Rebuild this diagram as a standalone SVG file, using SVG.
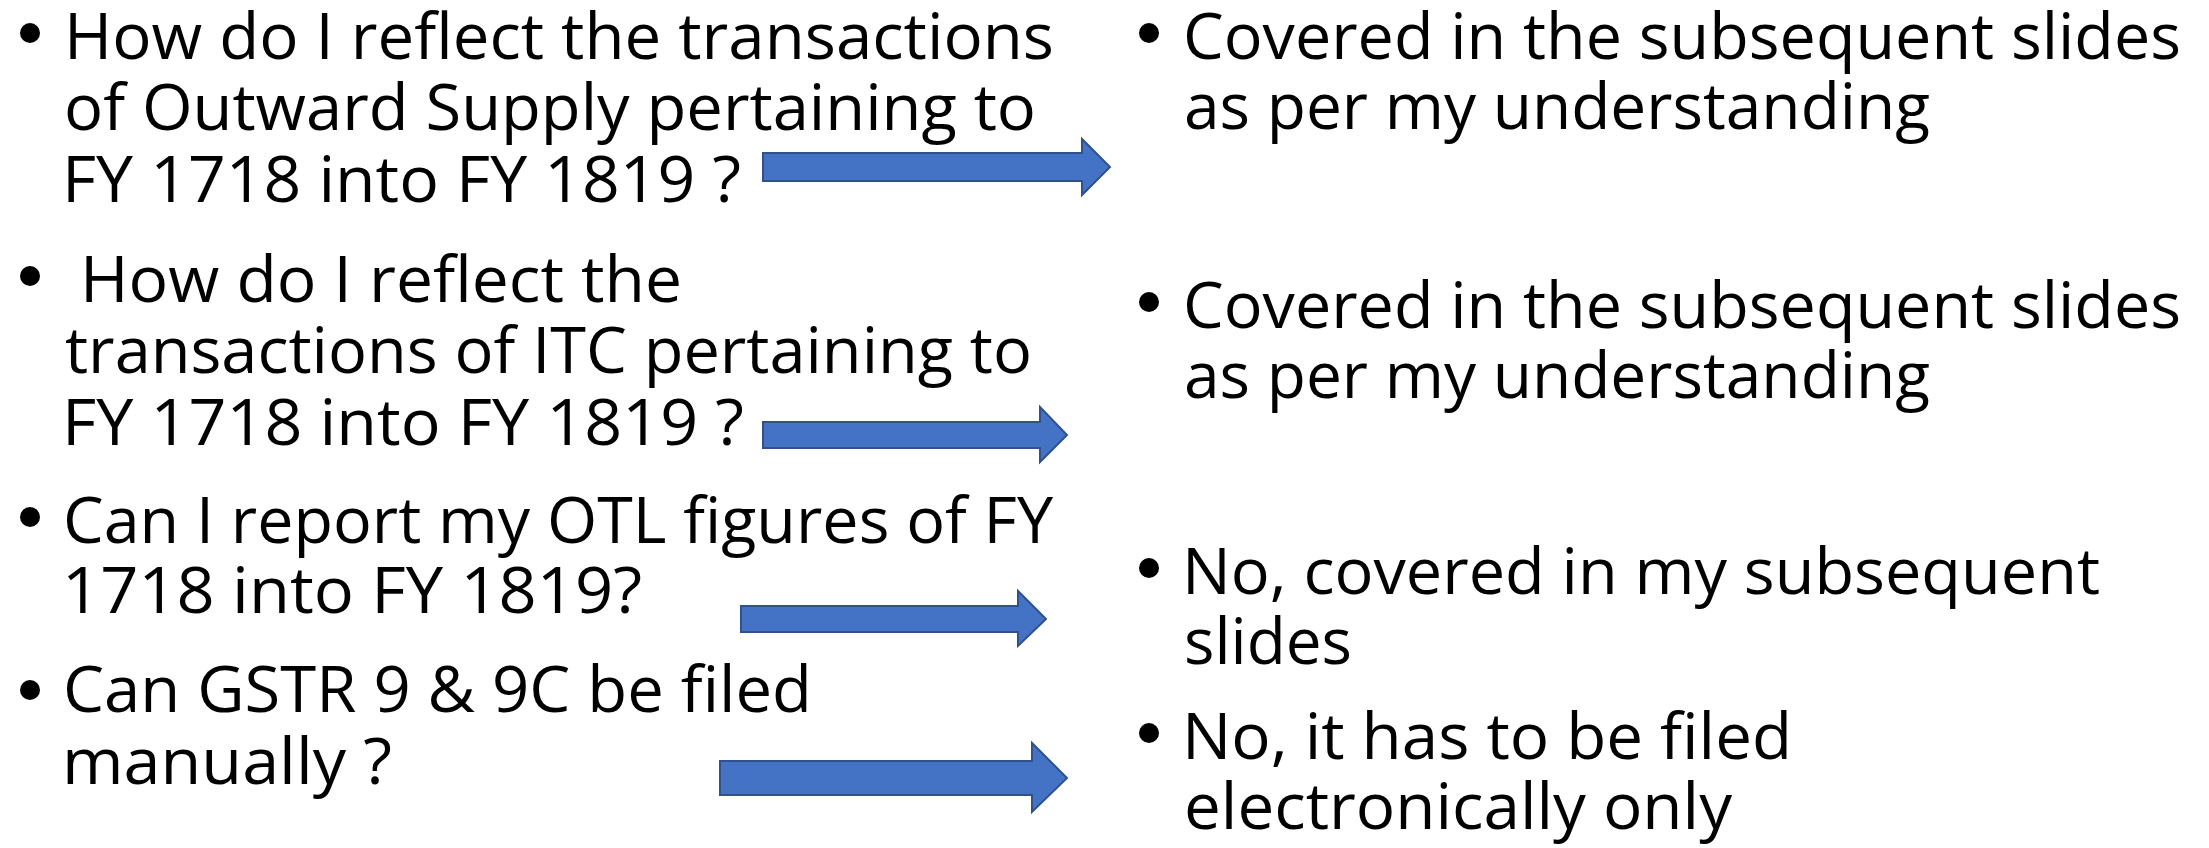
<svg xmlns="http://www.w3.org/2000/svg" width="2209" height="848" viewBox="0 0 2209 848">
  <style>
    .t { font-family: "Open Sans", "Noto Sans", "Liberation Sans", sans-serif; font-size: 64px; fill: #000000; }
    .dot { fill: #000000; }
    .arrow { fill: #4472C4; stroke: #2F528F; stroke-width: 2; stroke-linejoin: miter; }
  </style>
  <rect x="0" y="0" width="2209" height="848" fill="#FFFFFF"/>

  <!-- Questions (left column) -->
  <g id="q1">
    <circle class="dot" cx="30" cy="33" r="10"/>
    <text class="t" x="64" y="59" textLength="990" lengthAdjust="spacingAndGlyphs">How do I reflect the transactions</text>
    <text class="t" x="64" y="130" textLength="972" lengthAdjust="spacingAndGlyphs">of Outward Supply pertaining to</text>
    <text class="t" x="62" y="202" textLength="679" lengthAdjust="spacingAndGlyphs">FY 1718 into FY 1819 ?</text>
  </g>
  <g id="q2">
    <circle class="dot" cx="30" cy="276" r="10"/>
    <text class="t" x="80" y="302" textLength="602" lengthAdjust="spacingAndGlyphs">How do I reflect the</text>
    <text class="t" x="65" y="373" textLength="967" lengthAdjust="spacingAndGlyphs">transactions of ITC pertaining to</text>
    <text class="t" x="62" y="445" textLength="682" lengthAdjust="spacingAndGlyphs">FY 1718 into FY 1819 ?</text>
  </g>
  <g id="q3">
    <circle class="dot" cx="30" cy="517" r="10"/>
    <text class="t" x="63" y="543" textLength="990" lengthAdjust="spacingAndGlyphs">Can I report my OTL figures of FY</text>
    <text class="t" x="62" y="613" textLength="580" lengthAdjust="spacingAndGlyphs">1718 into FY 1819?</text>
  </g>
  <g id="q4">
    <circle class="dot" cx="30" cy="690" r="10"/>
    <text class="t" x="63" y="712" textLength="749" lengthAdjust="spacingAndGlyphs">Can GSTR 9 &amp; 9C be filed</text>
    <text class="t" x="62" y="784" textLength="330" lengthAdjust="spacingAndGlyphs">manually ?</text>
  </g>

  <!-- Answers (right column) -->
  <g id="a1">
    <circle class="dot" cx="1149" cy="33" r="10"/>
    <text class="t" x="1183" y="59" textLength="998" lengthAdjust="spacingAndGlyphs">Covered in the subsequent slides</text>
    <text class="t" x="1184" y="129" textLength="746" lengthAdjust="spacingAndGlyphs">as per my understanding</text>
  </g>
  <g id="a2">
    <circle class="dot" cx="1149" cy="302" r="10"/>
    <text class="t" x="1183" y="328" textLength="998" lengthAdjust="spacingAndGlyphs">Covered in the subsequent slides</text>
    <text class="t" x="1184" y="398" textLength="746" lengthAdjust="spacingAndGlyphs">as per my understanding</text>
  </g>
  <g id="a3">
    <circle class="dot" cx="1149" cy="568" r="10"/>
    <text class="t" x="1182" y="594" textLength="918" lengthAdjust="spacingAndGlyphs">No, covered in my subsequent</text>
    <text class="t" x="1184" y="664" textLength="168" lengthAdjust="spacingAndGlyphs">slides</text>
  </g>
  <g id="a4">
    <circle class="dot" cx="1149" cy="733" r="10"/>
    <text class="t" x="1182" y="759" textLength="610" lengthAdjust="spacingAndGlyphs">No, it has to be filed</text>
    <text class="t" x="1184" y="829" textLength="548" lengthAdjust="spacingAndGlyphs">electronically only</text>
  </g>

  <!-- Block arrows linking each question to its answer -->
  <g id="connectors">
    <path class="arrow" d="M763,153 H1082 V139 L1110,167 L1082,195 V181 H763 Z"/>
    <path class="arrow" d="M763,422 H1040 V407 L1067,435 L1040,462 V448 H763 Z"/>
    <path class="arrow" d="M741,606 H1018 V591 L1046,619 L1018,646 V632 H741 Z"/>
    <path class="arrow" d="M720,761 H1032 V743 L1067,778 L1032,812 V795 H720 Z"/>
  </g>
</svg>
